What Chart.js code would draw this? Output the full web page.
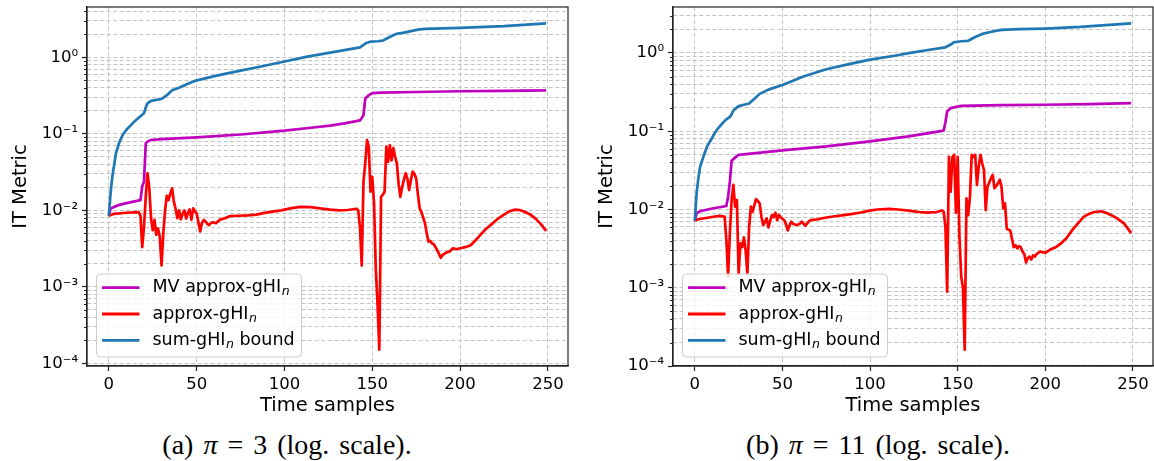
<!DOCTYPE html>
<html>
<head>
<meta charset="utf-8">
<script src="https://cdn.jsdelivr.net/npm/chart.js@4.4.1/dist/chart.umd.min.js"></script>
<style>
  body { margin: 0; background: #fff; width: 1154px; height: 461px; position: relative; overflow: hidden; }
  canvas { position: absolute; top: 0; }
  #chartA { left: 0; }
  #chartB { left: 586px; }
  .caption { position: absolute; top: 430px; width: 400px; text-align: center; line-height: 30px;
             font-family: "Liberation Serif", serif; font-size: 28px; word-spacing: 3px; color: #000; white-space: nowrap; }
  #capA { left: 87px; }
  #capB { left: 678px; }
</style>
</head>
<body>
<canvas id="chartA" width="577" height="420"></canvas>
<canvas id="chartB" width="568" height="420"></canvas>
<div class="caption" id="capA">(a) <i>π</i> = 3 (log. scale).</div>
<div class="caption" id="capB">(b) <i>π</i> = 11 (log. scale).</div>
<script>
// ---- panel (a): pi = 3 ----
const sumXA = [0, 1, 2, 4, 6, 8, 10, 12, 15, 18, 20, 21, 22, 24, 27, 30, 33, 36, 40, 45,
  50, 62, 75, 88, 100, 113, 126, 135, 143, 145, 147, 149, 153, 156, 158, 161, 164, 168, 172, 176,
  180, 190, 200, 225, 249];
const sumYA = [0.0085, 0.017, 0.028, 0.055, 0.078, 0.098, 0.113, 0.126, 0.148, 0.17, 0.186, 0.22, 0.25, 0.27, 0.278, 0.285, 0.32, 0.37, 0.40, 0.45,
  0.50, 0.58, 0.67, 0.77, 0.88, 1.02, 1.15, 1.25, 1.35, 1.45, 1.55, 1.6, 1.62, 1.65, 1.75, 1.9, 2.03, 2.1, 2.2, 2.3,
  2.35, 2.39, 2.42, 2.56, 2.78];

const mvXA = [0, 1, 3, 6, 10, 14, 18, 19, 20, 21, 22, 24, 30, 50, 75, 100, 115, 126, 135, 143,
  144, 145, 146, 148, 150, 155, 175, 200, 225, 249];
const mvYA = [0.0085, 0.0105, 0.0111, 0.0118, 0.0124, 0.013, 0.0136, 0.0205, 0.0237, 0.075, 0.079, 0.083, 0.085, 0.09, 0.098, 0.11, 0.12, 0.128, 0.138, 0.15,
  0.16, 0.176, 0.29, 0.32, 0.34, 0.345, 0.352, 0.36, 0.365, 0.37];

const apxXA = [0, 3, 10, 17, 18, 19, 20, 21, 22, 23, 24, 25, 26, 27, 28, 29, 30, 31, 32, 33,
  34, 35, 36, 37, 38, 39, 40, 41, 42, 43, 44, 45, 46, 47, 48, 49, 50, 51, 52, 53,
  54, 55, 56, 57, 58, 59, 61, 63, 66, 69, 74, 79, 84, 88, 93, 98, 104, 109, 115, 120,
  126, 131, 136, 141, 142, 143, 144, 145, 146, 147, 148, 149, 150, 151, 152, 153, 154, 155, 156, 157,
  158, 159, 160, 161, 162, 163, 164, 165, 166, 167, 168, 169, 170, 171, 172, 173, 174, 175, 176, 177,
  178, 179, 180, 181, 182, 183, 184, 185, 186, 187, 188, 189, 190, 191, 192, 194, 196, 198, 200, 203,
  206, 209, 212, 215, 218, 221, 225, 228, 231, 234, 237, 240, 243, 246, 249];
const apxYA = [0.0085, 0.0090, 0.0093, 0.0095, 0.0085, 0.0033, 0.0060, 0.015, 0.0305, 0.020, 0.0080, 0.0055, 0.0075, 0.0048, 0.0058, 0.0045, 0.0019, 0.0050, 0.0100, 0.0155,
  0.0136, 0.0165, 0.0194, 0.0130, 0.0105, 0.0079, 0.0100, 0.0076, 0.0090, 0.0100, 0.0078, 0.0092, 0.0103, 0.0075, 0.0106, 0.0098, 0.0091, 0.0070, 0.0053, 0.0068,
  0.0075, 0.0072, 0.0067, 0.0064, 0.0068, 0.0070, 0.0068, 0.0075, 0.0079, 0.0084, 0.0085, 0.0086, 0.0088, 0.0092, 0.0096, 0.0100, 0.0107, 0.0111, 0.0110, 0.0106,
  0.0102, 0.0100, 0.0101, 0.0105, 0.0100, 0.0060, 0.0019, 0.0237, 0.041, 0.083, 0.068, 0.0175, 0.0275, 0.0124, 0.0017, 0.0006, 0.000151, 0.015, 0.016, 0.0175,
  0.068, 0.043, 0.071, 0.045, 0.065, 0.050, 0.041, 0.022, 0.015, 0.020, 0.025, 0.0305, 0.026, 0.0184, 0.025, 0.032, 0.030, 0.026, 0.016, 0.0106,
  0.0095, 0.0080, 0.0068, 0.0050, 0.0039, 0.0040, 0.0037, 0.0036, 0.0033, 0.0030, 0.0027, 0.0024, 0.0026, 0.0027, 0.0028, 0.0029, 0.0032, 0.0031, 0.0032, 0.0033,
  0.0035, 0.0041, 0.0049, 0.0058, 0.0066, 0.0076, 0.0088, 0.0097, 0.0102, 0.0101, 0.0095, 0.0088, 0.0078, 0.0066, 0.0054];

// ---- panel (b): pi = 11 ----
const sumXB = [0, 1, 2, 3, 5, 7, 9, 11, 13, 16, 18, 20, 21, 22, 25, 28, 31, 34, 37, 42,
  50, 62, 75, 88, 100, 114, 123, 133, 143, 146, 148, 152, 156, 160, 164, 170, 175, 185, 200, 220, 249];
const sumYB = [0.0072, 0.016, 0.025, 0.035, 0.048, 0.064, 0.076, 0.092, 0.107, 0.128, 0.142, 0.152, 0.165, 0.184, 0.209, 0.218, 0.226, 0.26, 0.30, 0.34,
  0.39, 0.50, 0.62, 0.72, 0.82, 0.92, 1.0, 1.09, 1.18, 1.28, 1.37, 1.41, 1.43, 1.6, 1.75, 1.88, 1.97, 2.01, 2.05, 2.15, 2.39];

const mvXB = [0, 1, 3, 10, 18, 19, 20, 21, 22, 23, 25, 50, 75, 100, 122, 142, 143, 144, 146, 152, 175, 200, 225, 249];
const mvYB = [0.0072, 0.009, 0.0095, 0.0103, 0.0111, 0.0146, 0.0227, 0.042, 0.044, 0.046, 0.050, 0.057, 0.064, 0.074, 0.086, 0.102, 0.13, 0.18, 0.197, 0.211, 0.215, 0.218, 0.222, 0.229];

const apxXB = [0, 2, 8, 14, 17, 18, 19, 20, 21, 22, 23, 24, 25, 26, 27, 28, 29, 30, 31, 32,
  33, 34, 35, 36, 37, 38, 39, 40, 41, 42, 43, 44, 45, 46, 47, 48, 49, 50, 51, 52,
  53, 54, 55, 56, 58, 60, 61, 62, 63, 65, 66, 70, 75, 80, 85, 90, 94, 99, 104, 111,
  116, 122, 128, 133, 138, 141, 142, 143, 144, 145, 146, 147, 148, 149, 150, 151, 152, 153, 154, 155,
  156, 157, 158, 159, 160, 161, 162, 163, 164, 165, 166, 167, 168, 169, 170, 171, 172, 173, 174, 175,
  176, 177, 178, 179, 180, 181, 182, 183, 184, 185, 186, 187, 188, 189, 190, 191, 192, 193, 194, 195,
  197, 200, 203, 206, 209, 212, 216, 219, 222, 225, 228, 232, 235, 238, 241, 245, 249];
const apxYB = [0.0072, 0.0075, 0.0079, 0.0083, 0.0081, 0.0041, 0.0014, 0.0050, 0.0132, 0.0206, 0.0109, 0.0132, 0.0015, 0.0037, 0.0033, 0.0044, 0.0030, 0.0015, 0.0060, 0.0109,
  0.0094, 0.0115, 0.0136, 0.0128, 0.0120, 0.0081, 0.0063, 0.0070, 0.0077, 0.0059, 0.0072, 0.0085, 0.0080, 0.0091, 0.0073, 0.0085, 0.0080, 0.0076, 0.0073, 0.0065,
  0.0054, 0.0062, 0.0070, 0.0066, 0.0063, 0.0066, 0.0070, 0.0066, 0.0062, 0.0070, 0.0073, 0.0075, 0.0079, 0.0082, 0.0085, 0.0088, 0.0091, 0.0096, 0.0100, 0.0102,
  0.0100, 0.0097, 0.0093, 0.0091, 0.0093, 0.0097, 0.0094, 0.0060, 0.00089, 0.047, 0.0169, 0.047, 0.050, 0.0091, 0.047, 0.0045, 0.0014, 0.0010, 0.000162, 0.0139,
  0.0085, 0.0145, 0.050, 0.047, 0.050, 0.0206, 0.035, 0.050, 0.039, 0.032, 0.0098, 0.0196, 0.022, 0.025, 0.0277, 0.0187, 0.020, 0.0216, 0.024, 0.0196,
  0.0103, 0.0120, 0.0057, 0.0055, 0.0054, 0.0042, 0.0033, 0.0035, 0.0032, 0.0034, 0.0033, 0.0029, 0.0027, 0.0021, 0.0024, 0.0025, 0.0023, 0.0026, 0.0025, 0.0027,
  0.0029, 0.0028, 0.0031, 0.0033, 0.0037, 0.0043, 0.0057, 0.0068, 0.0081, 0.0088, 0.0093, 0.0095, 0.0090, 0.0084, 0.0077, 0.0066, 0.0050];

// ---- axes text ----
const xTickValues = [0, 50, 100, 150, 200, 250];
const yDecades = [1e-4, 1e-3, 1e-2, 1e-1, 1];
const yDecadeLabels = ['10⁻⁴', '10⁻³', '10⁻²', '10⁻¹', '10⁰'];
const xTitle = 'Time samples';
const yTitle = 'IT Metric';

// legend rows: [text, italic subscript, tail]
const legendNames = [['MV approx-gHI', 'n', ''], ['approx-gHI', 'n', ''], ['sum-gHI', 'n', ' bound']];
const seriesColors = ['#bf00bf', '#ff0000', '#1f77b4'];

Chart.defaults.font.family = '"DejaVu Sans", sans-serif';
Chart.defaults.color = '#000';

function toPoints(xs, ys) {
    return xs.map(function (x, i) { return { x: x, y: ys[i] }; });
}

function isDecade(v) {
    const l = Math.log10(v);
    return Math.abs(l - Math.round(l)) < 1e-9;
}

// frame on all four sides, short minor ticks, legend box in lower left
const axesDecor = {
    id: 'axesDecor',
    afterDatasetsDraw(chart) {
        const ctx = chart.ctx, a = chart.chartArea;
        const bx = a.left + 9.5, by = a.bottom - 92, bw = 205, bh = 83;
        ctx.save();
        ctx.beginPath();
        if (ctx.roundRect) ctx.roundRect(bx, by, bw, bh, 4); else ctx.rect(bx, by, bw, bh);
        ctx.fillStyle = 'rgba(255,255,255,0.8)';
        ctx.fill();
        ctx.strokeStyle = '#cccccc';
        ctx.lineWidth = 1;
        ctx.stroke();
        legendNames.forEach(function (name, i) {
            const y = by + 13.7 + i * 26.3;
            ctx.strokeStyle = seriesColors[i];
            ctx.lineWidth = 2.8;
            ctx.beginPath();
            ctx.moveTo(bx + 5.5, y);
            ctx.lineTo(bx + 43, y);
            ctx.stroke();
            ctx.fillStyle = '#000';
            ctx.textBaseline = 'middle';
            ctx.textAlign = 'left';
            let tx = bx + 56;
            ctx.font = '17.5px "DejaVu Sans"';
            ctx.fillText(name[0], tx, y);
            tx += ctx.measureText(name[0]).width + 0.5;
            ctx.font = 'italic 12.5px "DejaVu Sans"';
            ctx.fillText(name[1], tx, y + 4.5);
            tx += ctx.measureText(name[1]).width;
            ctx.font = '17.5px "DejaVu Sans"';
            ctx.fillText(name[2], tx, y);
        });
        ctx.restore();
    },
    afterDraw(chart) {
        const ctx = chart.ctx, a = chart.chartArea, ys = chart.scales.y;
        ctx.save();
        ctx.strokeStyle = '#222';
        ctx.lineWidth = 1;
        ys.ticks.forEach(function (t) {
            if (isDecade(t.value)) return;
            const py = Math.round(ys.getPixelForValue(t.value)) + 0.5;
            ctx.beginPath();
            ctx.moveTo(a.left - 3, py);
            ctx.lineTo(a.left, py);
            ctx.stroke();
        });
        ctx.lineWidth = 1.2;
        ctx.strokeRect(a.left, a.top, a.right - a.left, a.bottom - a.top);
        ctx.restore();
    }
};

function makePanel(canvasId, mvX, mvY, apxX, apxY, sumX, sumY, rightPad) {
    // 5% margins on each side, the log axis padded in decades
    const allY = mvY.concat(apxY, sumY);
    const lo = Math.log10(Math.min.apply(null, allY));
    const hi = Math.log10(Math.max.apply(null, allY));
    const ypad = 0.05 * (hi - lo);
    const yMin = Math.pow(10, lo - ypad), yMax = Math.pow(10, hi + ypad);
    const allX = mvX.concat(apxX, sumX);
    const xlo = Math.min.apply(null, allX), xhi = Math.max.apply(null, allX);
    const xpad = 0.05 * (xhi - xlo);

    const yTicks = [];
    for (let e = Math.floor(Math.log10(yMin)); e <= Math.ceil(Math.log10(yMax)); e++) {
        for (let k = 1; k <= 9; k++) {
            const v = k * Math.pow(10, e);
            if (v >= yMin * 0.995 && v <= yMax) yTicks.push(v);
        }
    }

    return new Chart(document.getElementById(canvasId), {
        type: 'line',
        data: {
            datasets: [
                { label: 'sum-gHI bound', data: toPoints(sumX, sumY), borderColor: seriesColors[2], order: 0 },
                { label: 'approx-gHI', data: toPoints(apxX, apxY), borderColor: seriesColors[1], order: 1 },
                { label: 'MV approx-gHI', data: toPoints(mvX, mvY), borderColor: seriesColors[0], order: 2 }
            ]
        },
        options: {
            responsive: false,
            animation: false,
            events: [],
            layout: { padding: { top: 7, right: rightPad, left: 0, bottom: 0 } },
            elements: {
                line: { borderWidth: 2.7, tension: 0, borderJoinStyle: 'round', fill: false },
                point: { radius: 0 }
            },
            plugins: { legend: { display: false }, tooltip: { enabled: false } },
            scales: {
                x: {
                    type: 'linear',
                    min: xlo - xpad,
                    max: xhi + xpad,
                    afterBuildTicks: function (scale) {
                        scale.ticks = xTickValues.map(function (v) { return { value: v }; });
                    },
                    afterFit: function (scale) {
                        scale.height = 54;
                        scale.paddingLeft = 0;
                        scale.paddingRight = 0;
                    },
                    ticks: { autoSkip: false, maxRotation: 0, padding: 4, font: { size: 16.5 }, color: '#000' },
                    grid: { color: '#c4c4c4', lineWidth: 1, tickLength: 5, tickColor: '#222', tickWidth: 1.2 },
                    border: { display: true, color: '#222', width: 1.2, dash: [4, 2.5] },
                    title: { display: true, text: xTitle, font: { size: 19.5 }, color: '#000', padding: { top: 0, bottom: 2 } }
                },
                y: {
                    type: 'logarithmic',
                    min: yMin,
                    max: yMax,
                    afterBuildTicks: function (scale) {
                        scale.ticks = yTicks.map(function (v) { return { value: v, major: isDecade(v) }; });
                    },
                    afterFit: function (scale) {
                        scale.width = 87;
                        scale.paddingTop = 0;
                        scale.paddingBottom = 0;
                    },
                    ticks: {
                        autoSkip: false,
                        padding: 4,
                        font: { size: 16.5 },
                        color: '#000',
                        callback: function (value) {
                            for (let i = 0; i < yDecades.length; i++) {
                                if (Math.abs(yDecades[i] - value) / yDecades[i] < 1e-6) return yDecadeLabels[i];
                            }
                            return '';
                        }
                    },
                    grid: {
                        color: '#c4c4c4',
                        lineWidth: 1,
                        tickLength: 5,
                        tickWidth: 1.2,
                        tickColor: function (c) { return (c.tick && isDecade(c.tick.value)) ? '#222' : 'rgba(0,0,0,0)'; }
                    },
                    border: { display: true, color: '#222', width: 1.2, dash: [4, 2.5] },
                    title: { display: true, text: yTitle, font: { size: 19.5 }, color: '#000', padding: { top: 9, bottom: 0 } }
                }
            }
        },
        plugins: [axesDecor]
    });
}

makePanel('chartA', mvXA, mvYA, apxXA, apxYA, sumXA, sumYA, 9);
makePanel('chartB', mvXB, mvYB, apxXB, apxYB, sumXB, sumYB, 1);
</script>
</body>
</html>
